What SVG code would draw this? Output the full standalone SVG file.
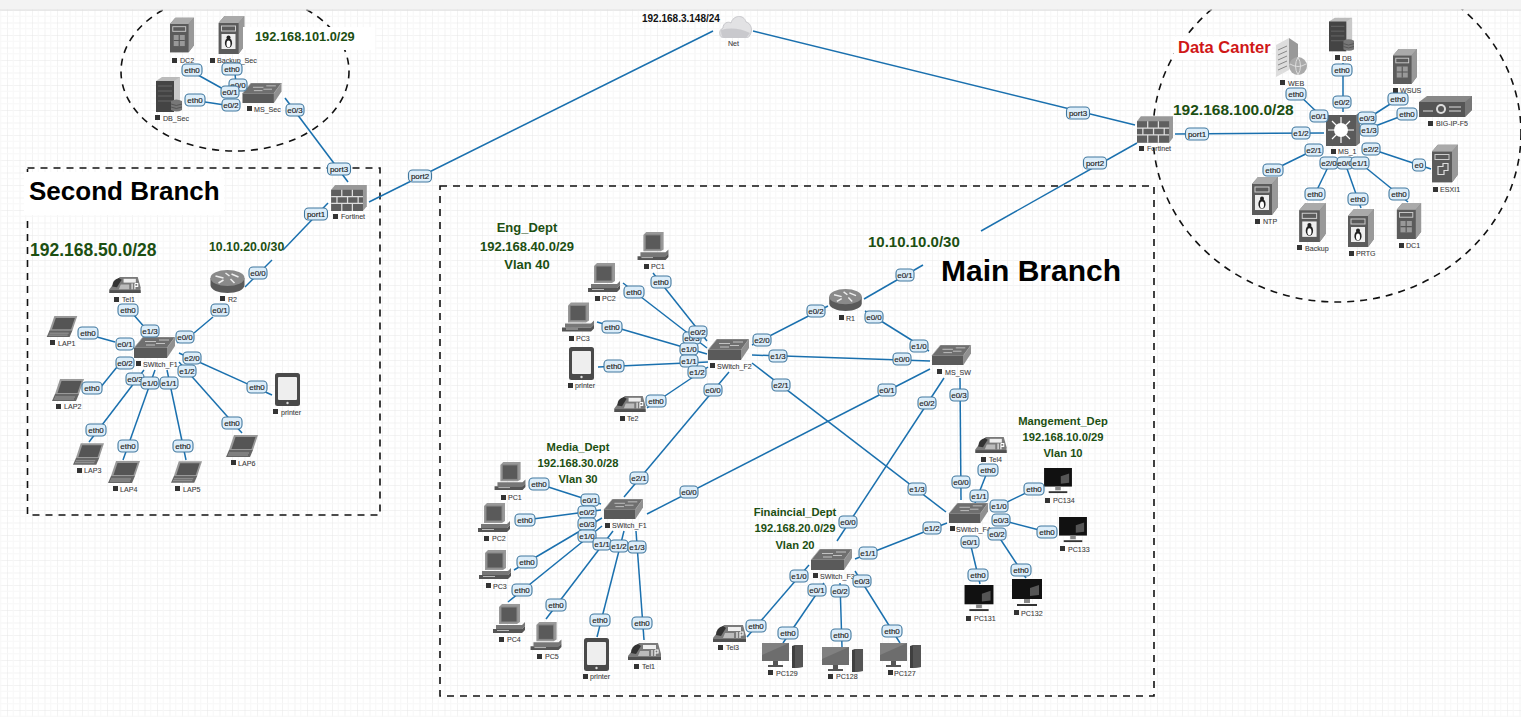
<svg xmlns="http://www.w3.org/2000/svg" width="1521" height="717" viewBox="0 0 1521 717">
<style>
text{font-family:"Liberation Sans",Arial,sans-serif}
.c line{stroke:#1a70ae;stroke-width:1.5}
.d{fill:none;stroke:#111;stroke-width:1.6;stroke-dasharray:7 6}
.lb rect{fill:#dcedf9;stroke:#41789f;stroke-width:1.1;rx:4px;ry:4px;y:-6px;height:12px}
.lb text{font-size:8px;fill:#1c1c1c;stroke:#1c1c1c;stroke-width:.15;text-anchor:middle}
.n{font-size:7.1px;fill:#3a3a3a;stroke:#3a3a3a;stroke-width:.08}
.sq{width:5px;height:5px;fill:#333}
.g{font-weight:bold;fill:#1c4f12}
.m{text-anchor:middle;font-size:11.2px}
.t{font-weight:bold;fill:#000}
</style>
<defs>
<pattern id="grid" x="7" y="10" width="12.5" height="12.5" patternUnits="userSpaceOnUse">
<path d="M0 0V12.5M0 0H12.5" stroke="#e7e7e7" stroke-width="1" fill="none"/>
<path d="M6.25 0V12.5M0 6.25H12.5" stroke="#f7f7f7" stroke-width="1" fill="none"/>
</pattern>
<symbol id="tower" viewBox="0 0 26 38"><path d="M0 7L6 0H26V30L20 38H0Z" fill="#777"/><path d="M20 7L26 0V30L20 38Z" fill="#999"/><rect y="7" width="20" height="31" fill="#5b5b5b"/><path d="M0 7L6 0H26L20 7Z" fill="#aaa"/><rect x="3" y="10" width="14" height="5" fill="none" stroke="#ccc" stroke-width="1"/></symbol>
<symbol id="winsrv" viewBox="0 0 26 38"><use href="#tower" width="26" height="38"/><rect x="4" y="19" width="12" height="12" fill="#999"/><path d="M10 19V31M4 25H16" stroke="#555" stroke-width="1.2"/></symbol>
<symbol id="linsrv" viewBox="0 0 26 38"><use href="#tower" width="26" height="38"/><rect x="3" y="18" width="14" height="15" fill="#eee"/><ellipse cx="10" cy="27" rx="3.6" ry="5" fill="#222"/><circle cx="10" cy="21.5" r="2" fill="#222"/><ellipse cx="10" cy="28" rx="2" ry="3.4" fill="#fff"/></symbol>
<symbol id="vmsrv" viewBox="0 0 26 38"><use href="#tower" width="26" height="38"/><path d="M6 22h5v-3h5v7h-4v4H6Z" fill="none" stroke="#ddd" stroke-width="1.2"/></symbol>
<symbol id="dbsrv" viewBox="0 0 26 35"><path d="M0 4L6 0H24V28H0Z" fill="#bbb"/><path d="M18 4L24 0V28H18Z" fill="#c9c9c9"/><rect y="4" width="18" height="31" fill="#444"/><path d="M2 9H16M2 14H16M2 19H16M2 24H16" stroke="#666" stroke-width="1"/><path d="M15 24q5-3 11 0v9q-5 3-11 0Z" fill="#777"/><path d="M15 27q5 3 11 0M15 30q5 3 11 0" stroke="#555" fill="none"/></symbol>
<symbol id="websrv" viewBox="0 0 31 39"><path d="M0 7L13 0V32L0 39Z" fill="#ddd"/><path d="M13 0L22 6V26H13Z" fill="#999"/><path d="M2 12L11 8M2 17L11 13M2 22L11 18M2 27L11 23M2 32L11 28" stroke="#888" fill="none"/><circle cx="22" cy="28" r="9" fill="#aaa"/><path d="M14 26q8 5 16 0M22 19q-5 9 0 18M22 19q5 9 0 18" stroke="#ddd" fill="none"/></symbol>
<symbol id="sw" viewBox="0 0 41 21"><path d="M0 11L9 0H41L33 11Z" fill="#6f6f6f" stroke="#aaa" stroke-width=".7"/><path d="M33 11L41 0V9L33 21Z" fill="#909090"/><rect y="11" width="33" height="10" fill="#5a5a5a"/><path d="M11 4.500H22M25 3H35M12 8H21M22 6.500H31" stroke="#ccc" stroke-width=".9" fill="none"/></symbol>
<symbol id="router" viewBox="0 0 34 23"><path d="M0 8V15C0 20 8 23 17 23S34 20 34 15V8Z" fill="#5a5a5a"/><ellipse cx="17" cy="8" rx="17" ry="8" fill="#8a8a8a"/><path d="M5 6L13 8M21 4L28 7M15 3L19 6M13 10L8 13M20 9L24 13" stroke="#eee" stroke-width="1.5"/></symbol>
<symbol id="fw" viewBox="0 0 37 27"><path d="M0 5L4 0H37V22L33 27H0Z" fill="#999"/><rect y="5" width="33" height="22" fill="#5f5f5f"/><path d="M0 12H33M0 19H33M11 5V12M22 5V12M6 12V19M17 12V19M28 12V19M11 19V27M22 19V27" stroke="#ddd" stroke-width="1.3"/></symbol>
<symbol id="laptop" viewBox="0 0 32 22"><path d="M8 0H32L27 15H3Z" fill="#999"/><path d="M9.500 2H29.500L25.500 14H5.500Z" fill="#555"/><path d="M3 15H27L24 22H0Z" fill="#666"/><path d="M3 18H23M2 20H22" stroke="#aaa" stroke-width=".8"/></symbol>
<symbol id="pc" viewBox="0 0 32 29"><path d="M6 3L9 0H27V18L24 20H6Z" fill="#999"/><rect x="8" y="3" width="16" height="15" fill="#5a5a5a" stroke="#888"/><path d="M3 21H29L32 18V22L29 25H3Z" fill="#777"/><path d="M0 25H29L32 22V26L29 29H0Z" fill="#555"/><rect x="4" y="26" width="12" height="1" fill="#bbb"/></symbol>
<symbol id="tablet" viewBox="0 0 25 33"><rect width="25" height="33" rx="2.500" fill="#4a4a4a"/><rect x="3" y="4" width="19" height="23" rx="1" fill="#eee"/><circle cx="12.500" cy="30" r="1.200" fill="#ddd"/></symbol>
<symbol id="phone" viewBox="0 0 35 18"><path d="M1 14L8 5L12 1H31L34 12V18H1Z" fill="#7a7a7a"/><path d="M4 11q0-7 7-9l3 2-5 8Z" fill="#333"/><rect x="16" y="3" width="13" height="4" fill="#eee"/><path d="M13 9H22V14H11Z" fill="#bbb"/><path d="M25 8V14M28 8V14M28 8H31V11H28" stroke="#fff" fill="none" stroke-width="1.100"/><rect x="1" y="15" width="33" height="3" fill="#505050"/></symbol>
<symbol id="pcset" viewBox="0 0 41 25"><rect width="27" height="18" fill="#6d6d6d"/><path d="M0 0H27L0 12Z" fill="#808080"/><path d="M11 18H16V22H11Z" fill="#555"/><rect x="6" y="22" width="15" height="2" fill="#555"/><path d="M30 3L33 2H41V24L33 25H30Z" fill="#3f3f3f"/><path d="M33 2H41V24L33 25Z" fill="#555"/></symbol>
<symbol id="blackpc" viewBox="0 0 30 28"><rect width="30" height="20" fill="#111"/><path d="M18 9L27 6V16L18 17Z" fill="#555"/><path d="M12 20H18V24H12Z" fill="#888"/><rect x="5" y="25" width="20" height="2" fill="#333"/></symbol>
<symbol id="cloud" viewBox="0 0 33 23"><path d="M5 23C0 23-1 15 4 13 4 8 9 6 12 8 14 0 25-1 27 7 32 8 34 15 31 20 30 22 29 23 27 23Z" fill="#e2e2e4" stroke="#c8c8cc"/><path d="M2 15Q16 11 31 18Q28 22 27 23H5Q2 22 2 15Z" fill="#c9c9cd"/></symbol>
<symbol id="l3" viewBox="0 0 34 34"><path d="M0 3H30L34 0V31L30 34H0Z" fill="#777"/><rect y="3" width="30" height="31" fill="#5a5a5a"/><circle cx="15" cy="18" r="7" fill="#fff"/><path d="M15 5V31M2 18H28M6 9L24 27M24 9L6 27" stroke="#fff" stroke-width="1.200"/></symbol>
<symbol id="f5" viewBox="0 0 53 21"><path d="M0 6L8 0H53V14L46 21H0Z" fill="#888"/><rect y="6" width="46" height="15" fill="#555"/><path d="M46 6L53 0V14L46 21Z" fill="#777"/><path d="M4 15H14M30 11H42M30 15H42" stroke="#ddd" stroke-width="1"/><circle cx="22" cy="13" r="5" fill="#ddd"/><circle cx="22" cy="13" r="3" fill="#555"/></symbol>
</defs>
<rect width="1521" height="717" fill="#fff"/>
<rect width="1521" height="717" fill="url(#grid)"/>
<g id="zones">
<ellipse class="d" cx="235" cy="71.500" rx="114" ry="79.500"/>
<ellipse class="d" cx="1337" cy="133" rx="184" ry="169"/>
<rect class="d" x="27.500" y="168" width="352.500" height="347"/>
<rect class="d" x="440" y="186" width="714" height="510"/>
</g>
<g id="connectors" class="c">
<line x1="198" y1="75" x2="225" y2="90"/><line x1="235" y1="73" x2="236" y2="85"/><line x1="205" y1="102" x2="225" y2="105"/>
<line x1="285" y1="98" x2="348" y2="182"/><line x1="328" y1="203" x2="283" y2="250"/><line x1="272" y1="260" x2="245" y2="287"/>
<line x1="369" y1="202" x2="713" y2="31"/><line x1="753" y1="31" x2="1135" y2="125"/><line x1="1137" y1="143" x2="981" y2="231"/><line x1="923" y1="265" x2="864" y2="299"/>
<line x1="133" y1="314" x2="146" y2="329"/><line x1="97" y1="337" x2="115" y2="342"/><line x1="194" y1="333" x2="213" y2="317"/><line x1="177" y1="343" x2="181" y2="340"/>
<line x1="179" y1="353" x2="272" y2="395"/><line x1="179" y1="362" x2="242" y2="433"/><line x1="167" y1="370" x2="186" y2="460"/><line x1="155" y1="370" x2="123" y2="460"/><line x1="144" y1="370" x2="89" y2="442"/><line x1="100" y1="388" x2="117" y2="367"/>
<line x1="1175" y1="134" x2="1324" y2="133"/><line x1="1298" y1="94" x2="1321" y2="116"/><line x1="1343" y1="63" x2="1343" y2="112"/><line x1="1370" y1="117" x2="1398" y2="99"/><line x1="1370" y1="128" x2="1407" y2="114"/><line x1="1371" y1="149" x2="1431" y2="169"/>
<line x1="1273" y1="170" x2="1320" y2="147"/><line x1="1315" y1="194" x2="1330" y2="163"/><line x1="1345" y1="163" x2="1361" y2="208"/><line x1="1360" y1="163" x2="1408" y2="202"/>
<line x1="653" y1="273" x2="707" y2="341"/><line x1="623" y1="283" x2="707" y2="348"/><line x1="597" y1="322" x2="707" y2="354"/><line x1="598" y1="367" x2="708" y2="362"/><line x1="647" y1="408" x2="708" y2="367"/>
<line x1="729" y1="372" x2="624" y2="497"/><line x1="752" y1="345" x2="828" y2="306"/><line x1="752" y1="355" x2="930" y2="361"/><line x1="752" y1="363" x2="946" y2="512"/>
<line x1="865" y1="311" x2="929" y2="351"/><line x1="930" y1="369" x2="647" y2="514"/><line x1="944" y1="378" x2="837" y2="541"/><line x1="960" y1="378" x2="961" y2="500"/>
<line x1="988" y1="470" x2="975" y2="503"/><line x1="1034" y1="489" x2="999" y2="506"/><line x1="1001" y1="520" x2="1047" y2="532"/><line x1="997" y1="534" x2="1026" y2="578"/><line x1="970" y1="542" x2="980" y2="584"/><line x1="855" y1="559" x2="947" y2="523"/>
<line x1="809" y1="565" x2="747" y2="637"/><line x1="824" y1="583" x2="783" y2="643"/><line x1="840" y1="583" x2="842" y2="647"/><line x1="855" y1="571" x2="900" y2="643"/>
<line x1="539" y1="484" x2="601" y2="504"/><line x1="525" y1="520" x2="601" y2="510"/><line x1="514" y1="570" x2="602" y2="518"/><line x1="508" y1="602" x2="602" y2="526"/><line x1="546" y1="619" x2="613" y2="531"/><line x1="597" y1="637" x2="624" y2="531"/><line x1="644" y1="640" x2="636" y2="531"/>
</g>
<g id="nodes">
<g id="sec-dc2"><use href="#winsrv" x="170" y="17" width="24" height="36"/><rect class="sq" x="172" y="58"/><text class="n" x="180" y="63">DC2</text></g>
<g id="sec-backup"><use href="#linsrv" x="218" y="16" width="27" height="38"/><rect class="sq" x="210" y="58"/><text class="n" x="217" y="63">Backup_Sec</text></g>
<g id="sec-db"><use href="#dbsrv" x="156" y="77" width="26" height="35"/><rect class="sq" x="155" y="115"/><text class="n" x="163" y="121">DB_Sec</text></g>
<g id="ms-sec"><use href="#sw" x="241" y="83" width="42" height="20"/><rect class="sq" x="247" y="106"/><text class="n" x="254" y="112">MS_Sec</text></g>
<g id="fortinet-2"><use href="#fw" x="330" y="185" width="38" height="26"/><rect class="sq" x="333" y="214"/><text class="n" x="341" y="219">Fortinet</text></g>
<g id="net"><use href="#cloud" x="719" y="15" width="33" height="23"/><text class="n" x="728" y="46">Net</text></g>
<g id="r2"><use href="#router" x="210" y="270" width="35" height="23"/><rect class="sq" x="220" y="296"/><text class="n" x="228" y="302">R2</text></g>
<g id="switch-f1-second"><use href="#sw" x="134" y="337" width="41" height="21"/><rect class="sq" x="136" y="361"/><text class="n" x="143" y="367">SWitch_F1</text></g>
<g id="tel1-second"><use href="#phone" x="108" y="276" width="34" height="17"/><rect class="sq" x="114" y="297"/><text class="n" x="122" y="302">Tel1</text></g>
<g id="lap1"><use href="#laptop" x="46" y="316" width="32" height="21"/><rect class="sq" x="50" y="340"/><text class="n" x="58" y="346">LAP1</text></g>
<g id="lap2"><use href="#laptop" x="52" y="379" width="32" height="22"/><rect class="sq" x="56" y="404"/><text class="n" x="64" y="409">LAP2</text></g>
<g id="lap3"><use href="#laptop" x="73" y="443" width="31" height="22"/><rect class="sq" x="77" y="468"/><text class="n" x="84" y="473">LAP3</text></g>
<g id="lap4"><use href="#laptop" x="108" y="461" width="32" height="22"/><rect class="sq" x="113" y="486"/><text class="n" x="120" y="492">LAP4</text></g>
<g id="lap5"><use href="#laptop" x="171" y="461" width="31" height="22"/><rect class="sq" x="175" y="486"/><text class="n" x="183" y="492">LAP5</text></g>
<g id="lap6"><use href="#laptop" x="226" y="435" width="32" height="22"/><rect class="sq" x="231" y="460"/><text class="n" x="238" y="466">LAP6</text></g>
<g id="printer-second"><use href="#tablet" x="275" y="373" width="25" height="33"/><rect class="sq" x="273" y="409"/><text class="n" x="281" y="415">printer</text></g>
<g id="fortinet-1"><use href="#fw" x="1137" y="116" width="36" height="27"/><rect class="sq" x="1139" y="146"/><text class="n" x="1147" y="151">Fortinet</text></g>
<g id="ms-1"><use href="#l3" x="1326" y="112" width="34" height="34"/><rect class="sq" x="1331" y="149"/><text class="n" x="1338" y="154">MS_1</text></g>
<g id="web"><use href="#websrv" x="1276" y="38" width="31" height="39"/><rect class="sq" x="1280" y="80"/><text class="n" x="1288" y="86">WEB</text></g>
<g id="db"><use href="#dbsrv" x="1329" y="17" width="25" height="35"/><rect class="sq" x="1335" y="55"/><text class="n" x="1342" y="61">DB</text></g>
<g id="wsus"><use href="#winsrv" x="1393" y="49" width="24" height="35"/><rect class="sq" x="1393" y="88"/><text class="n" x="1400" y="93">WSUS</text></g>
<g id="big-ip"><use href="#f5" x="1419" y="96" width="53" height="21"/><rect class="sq" x="1428" y="121"/><text class="n" x="1436" y="126">BIG-IP-F5</text></g>
<g id="esxi1"><use href="#vmsrv" x="1432" y="144" width="26" height="39"/><rect class="sq" x="1433" y="187"/><text class="n" x="1440" y="192">ESXI1</text></g>
<g id="dc1"><use href="#winsrv" x="1396" y="203" width="26" height="36"/><rect class="sq" x="1399" y="243"/><text class="n" x="1406" y="248">DC1</text></g>
<g id="prtg"><use href="#linsrv" x="1348" y="209" width="26" height="38"/><rect class="sq" x="1349" y="251"/><text class="n" x="1356" y="256">PRTG</text></g>
<g id="backup"><use href="#linsrv" x="1299" y="203" width="27" height="39"/><rect class="sq" x="1297" y="245"/><text class="n" x="1305" y="251">Backup</text></g>
<g id="ntp"><use href="#linsrv" x="1252" y="177" width="26" height="38"/><rect class="sq" x="1255" y="219"/><text class="n" x="1263" y="224">NTP</text></g>
<g id="switch-f2"><use href="#sw" x="708" y="339" width="41" height="21"/><rect class="sq" x="710" y="363"/><text class="n" x="717" y="369">SWitch_F2</text></g>
<g id="eng-pc1"><use href="#pc" x="637" y="232" width="32" height="28"/><rect class="sq" x="644" y="264"/><text class="n" x="651" y="269">PC1</text></g>
<g id="eng-pc2"><use href="#pc" x="588" y="263" width="32" height="29"/><rect class="sq" x="595" y="296"/><text class="n" x="602" y="301">PC2</text></g>
<g id="eng-pc3"><use href="#pc" x="562" y="302" width="32" height="30"/><rect class="sq" x="569" y="336"/><text class="n" x="576" y="341">PC3</text></g>
<g id="eng-printer"><use href="#tablet" x="569" y="347" width="25" height="33"/><rect class="sq" x="568" y="383"/><text class="n" x="575" y="388">printer</text></g>
<g id="te2"><use href="#phone" x="613" y="395" width="34" height="17"/><rect class="sq" x="620" y="416"/><text class="n" x="627" y="421">Te2</text></g>
<g id="r1"><use href="#router" x="829" y="289" width="33" height="22"/><rect class="sq" x="839" y="315"/><text class="n" x="846" y="321">R1</text></g>
<g id="ms-sw"><use href="#sw" x="931" y="345" width="41" height="20"/><rect class="sq" x="937" y="369"/><text class="n" x="945" y="375">MS_SW</text></g>
<g id="switch-f4"><use href="#sw" x="948" y="503" width="41" height="20"/><rect class="sq" x="950" y="526"/><text class="n" x="956" y="532">SWitch_F4</text></g>
<g id="tel4"><use href="#phone" x="974" y="436" width="34" height="17"/><rect class="sq" x="981" y="457"/><text class="n" x="989" y="462">Tel4</text></g>
<g id="pc134"><use href="#blackpc" x="1043" y="468" width="30" height="26"/><rect class="sq" x="1045" y="498"/><text class="n" x="1053" y="503">PC134</text></g>
<g id="pc133"><use href="#blackpc" x="1058" y="517" width="30" height="26"/><rect class="sq" x="1060" y="546"/><text class="n" x="1068" y="552">PC133</text></g>
<g id="pc132"><use href="#blackpc" x="1012" y="579" width="30" height="28"/><rect class="sq" x="1014" y="610"/><text class="n" x="1021" y="616">PC132</text></g>
<g id="pc131"><use href="#blackpc" x="964" y="585" width="30" height="27"/><rect class="sq" x="966" y="616"/><text class="n" x="974" y="621">PC131</text></g>
<g id="switch-f3"><use href="#sw" x="811" y="549" width="41" height="21"/><rect class="sq" x="813" y="573"/><text class="n" x="820" y="579">SWitch_F3</text></g>
<g id="tel3"><use href="#phone" x="712" y="624" width="35" height="18"/><rect class="sq" x="718" y="645"/><text class="n" x="726" y="650">Tel3</text></g>
<g id="pc129"><use href="#pcset" x="762" y="643" width="41" height="25"/><rect class="sq" x="768" y="670"/><text class="n" x="776" y="676">PC129</text></g>
<g id="pc128"><use href="#pcset" x="822" y="647" width="41" height="25"/><rect class="sq" x="828" y="674"/><text class="n" x="836" y="679">PC128</text></g>
<g id="pc127"><use href="#pcset" x="880" y="643" width="41" height="25"/><rect class="sq" x="888" y="670"/><text class="n" x="894" y="676">PC127</text></g>
<g id="switch-f1-media"><use href="#sw" x="603" y="499" width="41" height="20"/><rect class="sq" x="605" y="523"/><text class="n" x="612" y="528">SWitch_F1</text></g>
<g id="media-pc1"><use href="#pc" x="494" y="462" width="32" height="28"/><rect class="sq" x="501" y="495"/><text class="n" x="508" y="500">PC1</text></g>
<g id="media-pc2"><use href="#pc" x="478" y="503" width="32" height="29"/><rect class="sq" x="484" y="536"/><text class="n" x="492" y="541">PC2</text></g>
<g id="media-pc3"><use href="#pc" x="479" y="550" width="32" height="29"/><rect class="sq" x="486" y="583"/><text class="n" x="493" y="589">PC3</text></g>
<g id="media-pc4"><use href="#pc" x="493" y="604" width="32" height="29"/><rect class="sq" x="499" y="637"/><text class="n" x="507" y="642">PC4</text></g>
<g id="media-pc5"><use href="#pc" x="530" y="622" width="32" height="28"/><rect class="sq" x="537" y="654"/><text class="n" x="545" y="659">PC5</text></g>
<g id="media-printer"><use href="#tablet" x="584" y="638" width="25" height="33"/><rect class="sq" x="583" y="674"/><text class="n" x="590" y="679">printer</text></g>
<g id="media-tel1"><use href="#phone" x="627" y="642" width="35" height="18"/><rect class="sq" x="634" y="664"/><text class="n" x="642" y="669">Tel1</text></g>
</g>
<g id="notes">
<rect x="243" y="27" width="132" height="23" fill="#fff"/>
<text class="g" x="255" y="41" font-size="12.800">192.168.101.0/29</text>
<rect x="24" y="172" width="200" height="43" fill="#fff"/>
<text class="t" x="29" y="200" font-size="26">Second Branch</text>
<text class="g" x="30" y="256" font-size="17.500">192.168.50.0/28</text>
<text class="g" x="209" y="251" font-size="12.300">10.10.20.0/30</text>
<text x="642" y="22" font-size="10" font-weight="bold" fill="#111">192.168.3.148/24</text>
<rect x="1174" y="37" width="98" height="23" fill="#fff"/>
<text x="1178" y="53" font-size="16.500" font-weight="bold" fill="#d01818">Data Canter</text>
<text class="g" x="1173" y="115" font-size="15.500">192.168.100.0/28</text>
<text class="g" x="868" y="247" font-size="15">10.10.10.0/30</text>
<text class="t" x="941" y="281" font-size="30">Main Branch</text>
<g class="g" text-anchor="middle" font-size="13"><text x="527" y="232">Eng_Dept</text><text x="527" y="251">192.168.40.0/29</text><text x="527" y="269">Vlan 40</text></g>
<g class="g"><text class="m" x="578" y="451">Media_Dept</text><text class="m" x="578" y="467">192.168.30.0/28</text><text class="m" x="578" y="483">Vlan 30</text></g>
<g class="g"><text class="m" x="795" y="516">Finaincial_Dept</text><text class="m" x="795" y="532">192.168.20.0/29</text><text class="m" x="795" y="549">Vlan 20</text></g>
<g class="g"><text class="m" x="1063" y="425">Mangement_Dep</text><text class="m" x="1063" y="441">192.168.10.0/29</text><text class="m" x="1063" y="457">Vlan 10</text></g>
</g>
<g id="port-labels" class="lb">
<g transform="translate(192,70)"><rect x="-10" width="20"/><text y="2.800">eth0</text></g>
<g transform="translate(232,69)"><rect x="-10" width="20"/><text y="2.800">eth0</text></g>
<g transform="translate(238,85)"><rect x="-9" width="18"/><text y="2.800">e0/0</text></g>
<g transform="translate(230,92)"><rect x="-9" width="18"/><text y="2.800">e0/1</text></g>
<g transform="translate(195,100)"><rect x="-10" width="20"/><text y="2.800">eth0</text></g>
<g transform="translate(231,105)"><rect x="-9" width="18"/><text y="2.800">e0/2</text></g>
<g transform="translate(295,110)"><rect x="-9" width="18"/><text y="2.800">e0/3</text></g>
<g transform="translate(339,169)"><rect x="-11.500" width="23"/><text y="2.800">port3</text></g>
<g transform="translate(316,214)"><rect x="-11.500" width="23"/><text y="2.800">port1</text></g>
<g transform="translate(420,176)"><rect x="-11.500" width="23"/><text y="2.800">port2</text></g>
<g transform="translate(258,273)"><rect x="-9" width="18"/><text y="2.800">e0/0</text></g>
<g transform="translate(220,310)"><rect x="-9" width="18"/><text y="2.800">e0/1</text></g>
<g transform="translate(128,310)"><rect x="-10" width="20"/><text y="2.800">eth0</text></g>
<g transform="translate(150,331)"><rect x="-9" width="18"/><text y="2.800">e1/3</text></g>
<g transform="translate(185,337)"><rect x="-9" width="18"/><text y="2.800">e0/0</text></g>
<g transform="translate(88,333)"><rect x="-10" width="20"/><text y="2.800">eth0</text></g>
<g transform="translate(125,344)"><rect x="-9" width="18"/><text y="2.800">e0/1</text></g>
<g transform="translate(125,363)"><rect x="-9" width="18"/><text y="2.800">e0/2</text></g>
<g transform="translate(92,388)"><rect x="-10" width="20"/><text y="2.800">eth0</text></g>
<g transform="translate(135,379)"><rect x="-9" width="18"/><text y="2.800">e0/3</text></g>
<g transform="translate(150,383)"><rect x="-9" width="18"/><text y="2.800">e1/0</text></g>
<g transform="translate(169,383)"><rect x="-9" width="18"/><text y="2.800">e1/1</text></g>
<g transform="translate(187,371)"><rect x="-9" width="18"/><text y="2.800">e1/2</text></g>
<g transform="translate(192,358)"><rect x="-9" width="18"/><text y="2.800">e2/0</text></g>
<g transform="translate(257,387)"><rect x="-10" width="20"/><text y="2.800">eth0</text></g>
<g transform="translate(232,423)"><rect x="-10" width="20"/><text y="2.800">eth0</text></g>
<g transform="translate(183,446)"><rect x="-10" width="20"/><text y="2.800">eth0</text></g>
<g transform="translate(128,446)"><rect x="-10" width="20"/><text y="2.800">eth0</text></g>
<g transform="translate(96,430)"><rect x="-10" width="20"/><text y="2.800">eth0</text></g>
<g transform="translate(1078,113)"><rect x="-11.500" width="23"/><text y="2.800">port3</text></g>
<g transform="translate(1095,163)"><rect x="-11.500" width="23"/><text y="2.800">port2</text></g>
<g transform="translate(1197,134)"><rect x="-11.500" width="23"/><text y="2.800">port1</text></g>
<g transform="translate(1301,133)"><rect x="-9" width="18"/><text y="2.800">e1/2</text></g>
<g transform="translate(1296,94)"><rect x="-10" width="20"/><text y="2.800">eth0</text></g>
<g transform="translate(1319,116)"><rect x="-9" width="18"/><text y="2.800">e0/1</text></g>
<g transform="translate(1342,70)"><rect x="-10" width="20"/><text y="2.800">eth0</text></g>
<g transform="translate(1342,102)"><rect x="-9" width="18"/><text y="2.800">e0/2</text></g>
<g transform="translate(1398,99)"><rect x="-10" width="20"/><text y="2.800">eth0</text></g>
<g transform="translate(1367,118)"><rect x="-9" width="18"/><text y="2.800">e0/3</text></g>
<g transform="translate(1407,114)"><rect x="-10" width="20"/><text y="2.800">eth0</text></g>
<g transform="translate(1369,130)"><rect x="-9" width="18"/><text y="2.800">e1/3</text></g>
<g transform="translate(1371,149)"><rect x="-9" width="18"/><text y="2.800">e2/2</text></g>
<g transform="translate(1419,165)"><rect x="-6.500" width="13"/><text y="2.800">e0</text></g>
<g transform="translate(1314,150)"><rect x="-9" width="18"/><text y="2.800">e2/1</text></g>
<g transform="translate(1273,170)"><rect x="-10" width="20"/><text y="2.800">eth0</text></g>
<g transform="translate(1329,163)"><rect x="-9" width="18"/><text y="2.800">e2/0</text></g>
<g transform="translate(1345,163)"><rect x="-8" width="16"/><text y="2.800">e0/0</text></g>
<g transform="translate(1360,163)"><rect x="-9" width="18"/><text y="2.800">e1/1</text></g>
<g transform="translate(1315,194)"><rect x="-10" width="20"/><text y="2.800">eth0</text></g>
<g transform="translate(1358,199)"><rect x="-10" width="20"/><text y="2.800">eth0</text></g>
<g transform="translate(1399,194)"><rect x="-10" width="20"/><text y="2.800">eth0</text></g>
<g transform="translate(661,282)"><rect x="-10" width="20"/><text y="2.800">eth0</text></g>
<g transform="translate(634,292)"><rect x="-10" width="20"/><text y="2.800">eth0</text></g>
<g transform="translate(692,338)"><rect x="-9" width="18"/><text y="2.800">e0/3</text></g>
<g transform="translate(698,332)"><rect x="-9" width="18"/><text y="2.800">e0/2</text></g>
<g transform="translate(612,327)"><rect x="-10" width="20"/><text y="2.800">eth0</text></g>
<g transform="translate(689,349)"><rect x="-9" width="18"/><text y="2.800">e1/0</text></g>
<g transform="translate(689,361)"><rect x="-9" width="18"/><text y="2.800">e1/1</text></g>
<g transform="translate(614,366)"><rect x="-10" width="20"/><text y="2.800">eth0</text></g>
<g transform="translate(697,372)"><rect x="-9" width="18"/><text y="2.800">e1/2</text></g>
<g transform="translate(656,401)"><rect x="-10" width="20"/><text y="2.800">eth0</text></g>
<g transform="translate(713,390)"><rect x="-9" width="18"/><text y="2.800">e0/0</text></g>
<g transform="translate(762,340)"><rect x="-9" width="18"/><text y="2.800">e2/0</text></g>
<g transform="translate(778,356)"><rect x="-9" width="18"/><text y="2.800">e1/3</text></g>
<g transform="translate(781,385)"><rect x="-9" width="18"/><text y="2.800">e2/1</text></g>
<g transform="translate(816,311)"><rect x="-9" width="18"/><text y="2.800">e0/2</text></g>
<g transform="translate(905,275)"><rect x="-9" width="18"/><text y="2.800">e0/1</text></g>
<g transform="translate(874,317)"><rect x="-9" width="18"/><text y="2.800">e0/0</text></g>
<g transform="translate(919,346)"><rect x="-9" width="18"/><text y="2.800">e1/0</text></g>
<g transform="translate(902,359)"><rect x="-9" width="18"/><text y="2.800">e0/0</text></g>
<g transform="translate(887,390)"><rect x="-9" width="18"/><text y="2.800">e0/1</text></g>
<g transform="translate(927,403)"><rect x="-9" width="18"/><text y="2.800">e0/2</text></g>
<g transform="translate(959,395)"><rect x="-9" width="18"/><text y="2.800">e0/3</text></g>
<g transform="translate(961,482)"><rect x="-9" width="18"/><text y="2.800">e0/0</text></g>
<g transform="translate(917,489)"><rect x="-9" width="18"/><text y="2.800">e1/3</text></g>
<g transform="translate(988,470)"><rect x="-10" width="20"/><text y="2.800">eth0</text></g>
<g transform="translate(979,496)"><rect x="-9" width="18"/><text y="2.800">e1/1</text></g>
<g transform="translate(1034,489)"><rect x="-10" width="20"/><text y="2.800">eth0</text></g>
<g transform="translate(999,506)"><rect x="-9" width="18"/><text y="2.800">e1/0</text></g>
<g transform="translate(1001,520)"><rect x="-9" width="18"/><text y="2.800">e0/3</text></g>
<g transform="translate(1047,532)"><rect x="-10" width="20"/><text y="2.800">eth0</text></g>
<g transform="translate(997,534)"><rect x="-9" width="18"/><text y="2.800">e0/2</text></g>
<g transform="translate(1021,570)"><rect x="-10" width="20"/><text y="2.800">eth0</text></g>
<g transform="translate(970,542)"><rect x="-9" width="18"/><text y="2.800">e0/1</text></g>
<g transform="translate(978,575)"><rect x="-10" width="20"/><text y="2.800">eth0</text></g>
<g transform="translate(932,528)"><rect x="-9" width="18"/><text y="2.800">e1/2</text></g>
<g transform="translate(868,553)"><rect x="-9" width="18"/><text y="2.800">e1/1</text></g>
<g transform="translate(848,522)"><rect x="-9" width="18"/><text y="2.800">e0/0</text></g>
<g transform="translate(799,576)"><rect x="-9" width="18"/><text y="2.800">e1/0</text></g>
<g transform="translate(756,626)"><rect x="-10" width="20"/><text y="2.800">eth0</text></g>
<g transform="translate(817,590)"><rect x="-9" width="18"/><text y="2.800">e0/1</text></g>
<g transform="translate(788,633)"><rect x="-10" width="20"/><text y="2.800">eth0</text></g>
<g transform="translate(840,591)"><rect x="-9" width="18"/><text y="2.800">e0/2</text></g>
<g transform="translate(841,635)"><rect x="-10" width="20"/><text y="2.800">eth0</text></g>
<g transform="translate(862,581)"><rect x="-9" width="18"/><text y="2.800">e0/3</text></g>
<g transform="translate(892,631)"><rect x="-10" width="20"/><text y="2.800">eth0</text></g>
<g transform="translate(539,484)"><rect x="-10" width="20"/><text y="2.800">eth0</text></g>
<g transform="translate(590,500)"><rect x="-9" width="18"/><text y="2.800">e0/1</text></g>
<g transform="translate(525,520)"><rect x="-10" width="20"/><text y="2.800">eth0</text></g>
<g transform="translate(587,512)"><rect x="-9" width="18"/><text y="2.800">e0/2</text></g>
<g transform="translate(587,524)"><rect x="-9" width="18"/><text y="2.800">e0/3</text></g>
<g transform="translate(527,562)"><rect x="-10" width="20"/><text y="2.800">eth0</text></g>
<g transform="translate(587,536)"><rect x="-9" width="18"/><text y="2.800">e1/0</text></g>
<g transform="translate(522,590)"><rect x="-10" width="20"/><text y="2.800">eth0</text></g>
<g transform="translate(602,544)"><rect x="-9" width="18"/><text y="2.800">e1/1</text></g>
<g transform="translate(556,605)"><rect x="-10" width="20"/><text y="2.800">eth0</text></g>
<g transform="translate(619,546)"><rect x="-9" width="18"/><text y="2.800">e1/2</text></g>
<g transform="translate(600,620)"><rect x="-10" width="20"/><text y="2.800">eth0</text></g>
<g transform="translate(637,547)"><rect x="-9" width="18"/><text y="2.800">e1/3</text></g>
<g transform="translate(642,623)"><rect x="-10" width="20"/><text y="2.800">eth0</text></g>
<g transform="translate(639,478)"><rect x="-9" width="18"/><text y="2.800">e2/1</text></g>
<g transform="translate(689,492)"><rect x="-9" width="18"/><text y="2.800">e0/0</text></g>
</g>
<g id="toolbar"><rect width="1521" height="9.500" fill="#f3f3f3"/><rect y="9.500" width="1521" height="1" fill="#dedede"/></g>
</svg>
